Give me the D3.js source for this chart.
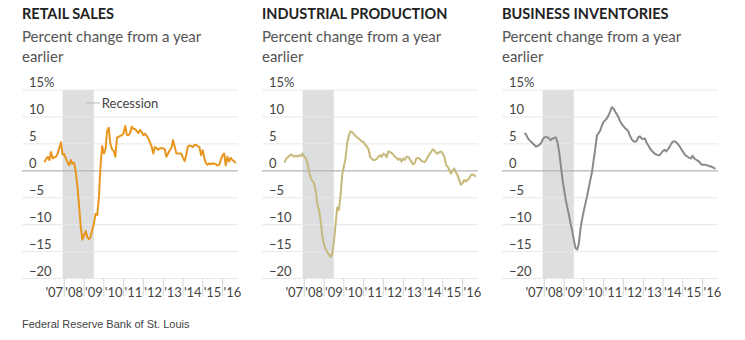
<!DOCTYPE html>
<html>
<head>
<meta charset="utf-8">
<script src="https://cdn.jsdelivr.net/npm/d3@7"></script>
<style>
  body { margin: 0; background: #fff; }
  svg { display: block; }
</style>
</head>
<body>
<div id="chart"></div>
<script>
// Monthly readings, Jan 2007 onward (percent change from a year earlier)
const startMonth = new Date(2007, 0, 1);

const retailSales = [
  1.6, 2.2, 2.6, 2.0, 3.5, 2.3, 2.5, 2.6, 3.2, 4.2, 5.3, 3.0,
  3.1, 2.2, 1.6, 1.0, 2.0, 1.3, 1.5, -0.3, -3.0, -6.5, -10.5, -12.8,
  -12.0, -11.2, -12.3, -12.7, -12.3, -11.0, -9.8, -8.0, -8.2, -5.0, 1.0, 4.6,
  3.2, 4.0, 7.3, 8.0, 5.0, 4.0, 3.7, 2.6, 6.2, 6.3, 6.5, 6.6,
  7.0, 8.3, 6.7, 6.6, 7.0, 8.2, 7.8, 7.7, 7.4, 7.0, 7.6, 7.2,
  6.6, 6.9, 6.5, 6.0, 5.3, 4.5, 3.2, 4.4, 4.2, 3.9, 4.2, 4.2,
  4.2, 3.9, 2.6, 3.2, 3.8, 4.2, 5.7, 4.5, 3.2, 3.2, 3.2, 3.2,
  2.4, 1.8, 2.9, 4.5, 4.7, 4.6, 4.4, 4.8, 4.8, 4.6, 4.4, 2.9,
  3.8, 2.3, 1.4, 1.1, 1.4, 1.2, 1.4, 1.3, 1.2, 1.0, 1.1, 2.0,
  2.9, 3.2, 1.0, 2.6, 1.7, 2.4, 2.0, 1.8, 1.4
];

const industrialProduction = [
  1.5, 2.2, 2.5, 2.8, 3.0, 2.8, 2.6, 2.8, 2.6, 2.9, 2.7, 3.2,
  2.6, 2.3, 1.4, -0.3, -1.4, -1.9, -2.3, -3.8, -6.4, -7.3, -9.5, -12.2,
  -13.8, -14.6, -15.1, -15.5, -16.0, -15.4, -13.2, -10.0, -6.8, -7.3, -4.6, -0.8,
  0.8, 2.3, 5.0, 6.5, 7.3, 7.2, 6.9, 6.5, 6.2, 6.0, 5.7, 5.4,
  5.4, 4.8, 4.5, 4.0, 2.6, 2.2, 2.0, 2.0, 2.2, 2.6, 2.9, 2.6,
  3.2, 3.0, 2.5, 3.6, 3.5, 3.3, 3.0, 2.6, 2.4, 2.0, 2.3, 1.7,
  2.3, 2.0, 2.6, 2.6, 2.2, 1.7, 1.2, 1.4, 2.3, 2.4, 2.2, 1.9,
  1.7, 1.6, 2.0, 2.6, 3.1, 3.5, 4.0, 3.8, 3.3, 3.2, 3.5, 3.6,
  3.2, 2.6, 1.1, 0.8, 0.2, -0.5, 0.0, 0.4, -0.3, -0.8, -1.7, -2.6,
  -2.3, -1.7, -2.0, -1.7, -1.5, -0.8, -0.7, -0.8, -1.1
];

const businessInventories = [
  7.0, 6.7, 6.1, 5.7, 5.4, 5.1, 4.8, 4.5, 4.6, 4.8, 5.1, 5.8,
  6.2, 6.3, 6.2, 6.0, 5.7, 6.0, 6.1, 6.2, 5.3, 3.6, 1.0, -1.5,
  -3.5, -5.4, -6.8, -8.2, -9.8, -11.2, -12.9, -14.4, -14.6, -13.5, -10.7, -8.9,
  -7.4, -6.0, -4.7, -3.2, -1.7, -0.2, 2.0, 4.2, 6.6, 7.0, 7.5, 8.4,
  9.1, 9.4, 9.7, 10.3, 11.0, 11.8, 11.6, 11.0, 10.5, 10.0, 9.2, 8.7,
  8.3, 7.9, 7.7, 7.3, 6.5, 5.9, 5.5, 5.4, 5.5, 6.2, 6.4, 6.0,
  5.9, 6.0, 5.3, 4.8, 4.2, 3.8, 3.5, 3.2, 3.0, 2.9, 2.9, 3.3,
  3.7, 3.9, 3.6, 4.0, 4.4, 5.0, 5.4, 5.5, 5.3, 5.0, 4.6, 4.1,
  3.6, 3.1, 2.8, 2.6, 2.4, 2.3, 2.8, 2.3, 2.1, 1.9, 1.7, 1.3,
  1.1, 1.1, 1.1, 1.0, 0.9, 0.8, 0.7, 0.5, 0.4
];

const panelTitles = ["RETAIL SALES", "INDUSTRIAL PRODUCTION", "BUSINESS INVENTORIES"];
const panelSeries = [retailSales, industrialProduction, businessInventories];
const panelColors = ["#e8961f", "#c6b97c", "#8a8a8a"];

const yTicks = [15, 10, 5, 0, -5, -10, -15, -20];
const yearLabels = ["'07", "'08", "'09", "'10", "'11", "'12", "'13", "'14", "'15", "'16"];
const years = [2007, 2008, 2009, 2010, 2011, 2012, 2013, 2014, 2015, 2016];
const recession = [new Date(2007, 11, 1), new Date(2009, 5, 30)];

const W = 745, H = 340;
const panelW = 240;
const gridLeft = 22, gridRight = 238;

const svg = d3.select("#chart").append("svg")
  .attr("width", W)
  .attr("height", H)
  .style("font-family", "Lato, 'Open Sans', sans-serif");

const x = d3.scaleTime()
  .domain([new Date(2007, 0, 1), new Date(2016, 0, 1)])
  .range([44.5, 222.5]);

const y = d3.scaleLinear()
  .domain([-20, 15])
  .range([278.5, 90]);

panelSeries.forEach((values, i) => {
  const g = svg.append("g")
    .attr("transform", "translate(" + (i * panelW) + ",0)");

  // title and subtitle
  g.append("text")
    .attr("x", gridLeft).attr("y", 19)
    .attr("font-size", 14.5).attr("font-weight", 700)
    .attr("fill", "#222")
    .text(panelTitles[i]);

  const sub = g.append("text")
    .attr("x", gridLeft).attr("y", 42)
    .attr("font-size", 15).attr("fill", "#555");
  sub.append("tspan").attr("x", gridLeft).text("Percent change from a year");
  sub.append("tspan").attr("x", gridLeft).attr("dy", 20).text("earlier");

  // recession shading
  g.append("rect")
    .attr("x", x(recession[0]))
    .attr("y", y(15))
    .attr("width", x(recession[1]) - x(recession[0]))
    .attr("height", y(-20) - y(15))
    .attr("fill", "#dddee0");

  // gridlines
  g.selectAll("line.grid")
    .data(yTicks)
    .enter().append("line")
    .attr("class", "grid")
    .attr("x1", gridLeft).attr("x2", gridRight)
    .attr("y1", d => y(d)).attr("y2", d => y(d))
    .attr("stroke", d => d === 0 ? "#b5b5b5" : "#e8e8e8")
    .attr("stroke-width", d => d === 0 ? 1.3 : 1);

  // y labels sit above their gridlines
  g.selectAll("text.ylab")
    .data(yTicks)
    .enter().append("text")
    .attr("class", "ylab")
    .attr("x", gridLeft + 7)
    .attr("y", d => y(d) - 3)
    .attr("font-size", 13).attr("fill", "#444")
    .text(d => d === 15 ? "15%" : (d < 0 ? "\u2212" + Math.abs(d) : d));

  // x ticks at year starts, labels mid-year
  g.selectAll("line.xtick")
    .data(years.slice(1))
    .enter().append("line")
    .attr("class", "xtick")
    .attr("x1", d => x(new Date(d, 0, 1))).attr("x2", d => x(new Date(d, 0, 1)))
    .attr("y1", y(-20)).attr("y2", y(-20) + 18)
    .attr("stroke", "#d5d5d5");

  g.selectAll("text.xlab")
    .data(years)
    .enter().append("text")
    .attr("class", "xlab")
    .attr("x", d => x(new Date(d, 6, 1)))
    .attr("y", y(-20) + 18)
    .attr("text-anchor", "middle")
    .attr("font-size", 13).attr("fill", "#444")
    .text((d, j) => yearLabels[j]);

  // the series
  const line = d3.line()
    .x((d, j) => x(d3.timeMonth.offset(startMonth, j)))
    .y(d => y(d));

  g.append("path")
    .datum(values)
    .attr("d", line)
    .attr("fill", "none")
    .attr("stroke", panelColors[i])
    .attr("stroke-width", 2)
    .attr("stroke-linejoin", "round");

  if (i === 0) {
    g.append("line")
      .attr("x1", x(recession[1]) - 8).attr("x2", x(recession[1]) + 6)
      .attr("y1", 103).attr("y2", 103)
      .attr("stroke", "#bbb");
    g.append("text")
      .attr("x", x(recession[1]) + 8).attr("y", 108)
      .attr("font-size", 13).attr("fill", "#444")
      .text("Recession");
  }
});

svg.append("text")
  .attr("x", gridLeft).attr("y", 328)
  .attr("font-size", 11).attr("fill", "#444")
  .attr("font-family", "'Liberation Sans', Arial, sans-serif")
  .text("Federal Reserve Bank of St. Louis");
</script>
</body>
</html>
